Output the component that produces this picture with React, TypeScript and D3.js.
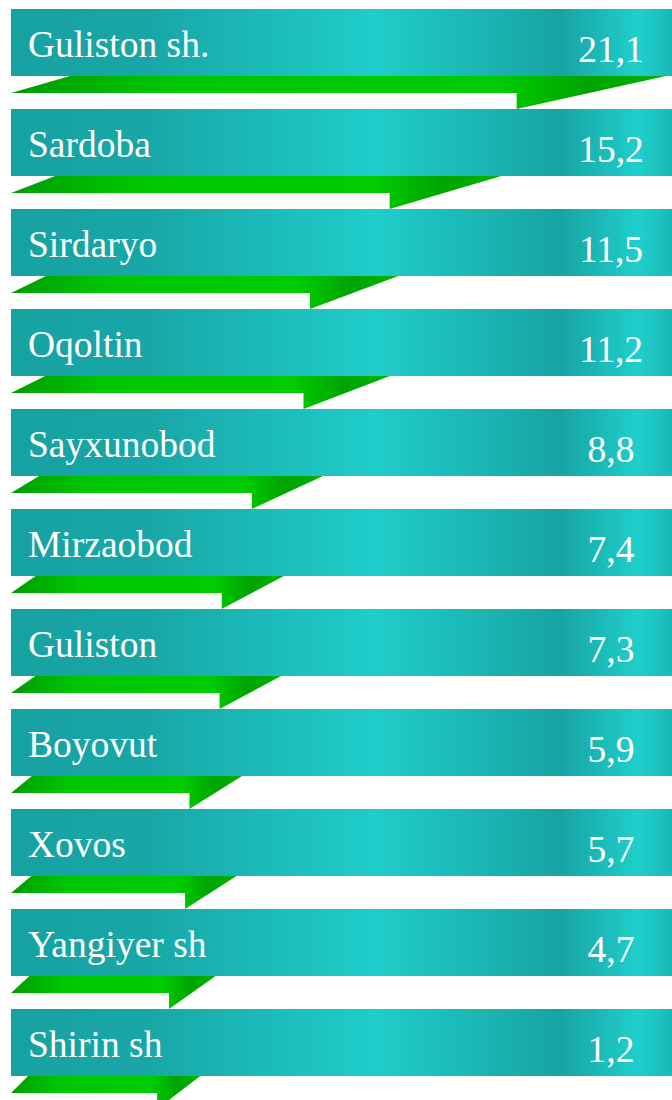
import React from "react";
import * as d3 from "d3";

const districts = [
  "Guliston sh.",
  "Sardoba",
  "Sirdaryo",
  "Oqoltin",
  "Sayxunobod",
  "Mirzaobod",
  "Guliston",
  "Boyovut",
  "Xovos",
  "Yangiyer sh",
  "Shirin sh",
];
const values = [21.1, 15.2, 11.5, 11.2, 8.8, 7.4, 7.3, 5.9, 5.7, 4.7, 1.2];
const valueLabels = ["21,1", "15,2", "11,5", "11,2", "8,8", "7,4", "7,3", "5,9", "5,7", "4,7", "1,2"];

const width = 672;
const height = 1100;
const left = 11;
const rowStep = 100;
const bannerTop = 9;
const bannerH = 67;
const bandH = 17;
const tailH = 33;
const font = "'Liberation Serif', 'Times New Roman', serif";

export default function App() {
  const y = d3
    .scaleBand<number>()
    .domain(d3.range(districts.length))
    .range([bannerTop, bannerTop + rowStep * districts.length])
    .paddingInner(0)
    .paddingOuter(0);

  // ribbon length
  const w = d3
    .scaleLinear()
    .domain([0, 5, d3.max(values) as number])
    .range([184, 206, 655]);

  const line = d3.line<[number, number]>();

  const ribbon = (v: number, i: number) => {
    const W = w(v);
    const top = (y(i) as number) + bannerH;
    const tailX = left + W * 0.772;
    const pts: [number, number][] = [
      [left, top + bandH],
      [left + W * 0.09, top],
      [left + W, top],
      [tailX, top + tailH],
      [tailX, top + bandH],
    ];
    return line(pts) + "Z";
  };

  return (
    <svg
      width={width}
      height={height}
      style={{ position: "absolute", left: 0, top: 0, background: "#fff" }}
    >
      <defs>
        <linearGradient id="teal" x1="0" x2="1" y1="0" y2="0">
          <stop offset="0" stopColor="#17a2a2" />
          <stop offset="0.2" stopColor="#18a6a6" />
          <stop offset="0.55" stopColor="#1fcdca" />
          <stop offset="0.83" stopColor="#17a4a3" />
          <stop offset="0.95" stopColor="#1fcfcc" />
          <stop offset="1" stopColor="#1ab8b7" />
        </linearGradient>
        <linearGradient id="green" x1="0" x2="1" y1="0" y2="0">
          <stop offset="0" stopColor="#009c00" />
          <stop offset="0.25" stopColor="#00c600" />
          <stop offset="0.74" stopColor="#00cc00" />
          <stop offset="0.88" stopColor="#00a400" />
          <stop offset="1" stopColor="#00b400" />
        </linearGradient>
      </defs>
      <g>
        {values.map((v, i) => (
          <path key={"r" + i} d={ribbon(v, i)} fill="url(#green)" />
        ))}
      </g>
      <g>
        {districts.map((d, i) => (
          <g key={d} transform={`translate(0,${y(i)})`}>
            <rect x={left} y={0} width={width - left} height={bannerH} fill="url(#teal)" />
            <text x={28} y={48} fill="#fff" fontFamily={font} fontSize={37.5}>
              {d}
            </text>
            <text
              x={611}
              y={53}
              fill="#fff"
              textAnchor="middle"
              fontFamily={font}
              fontSize={37.5}
            >
              {valueLabels[i]}
            </text>
          </g>
        ))}
      </g>
    </svg>
  );
}
